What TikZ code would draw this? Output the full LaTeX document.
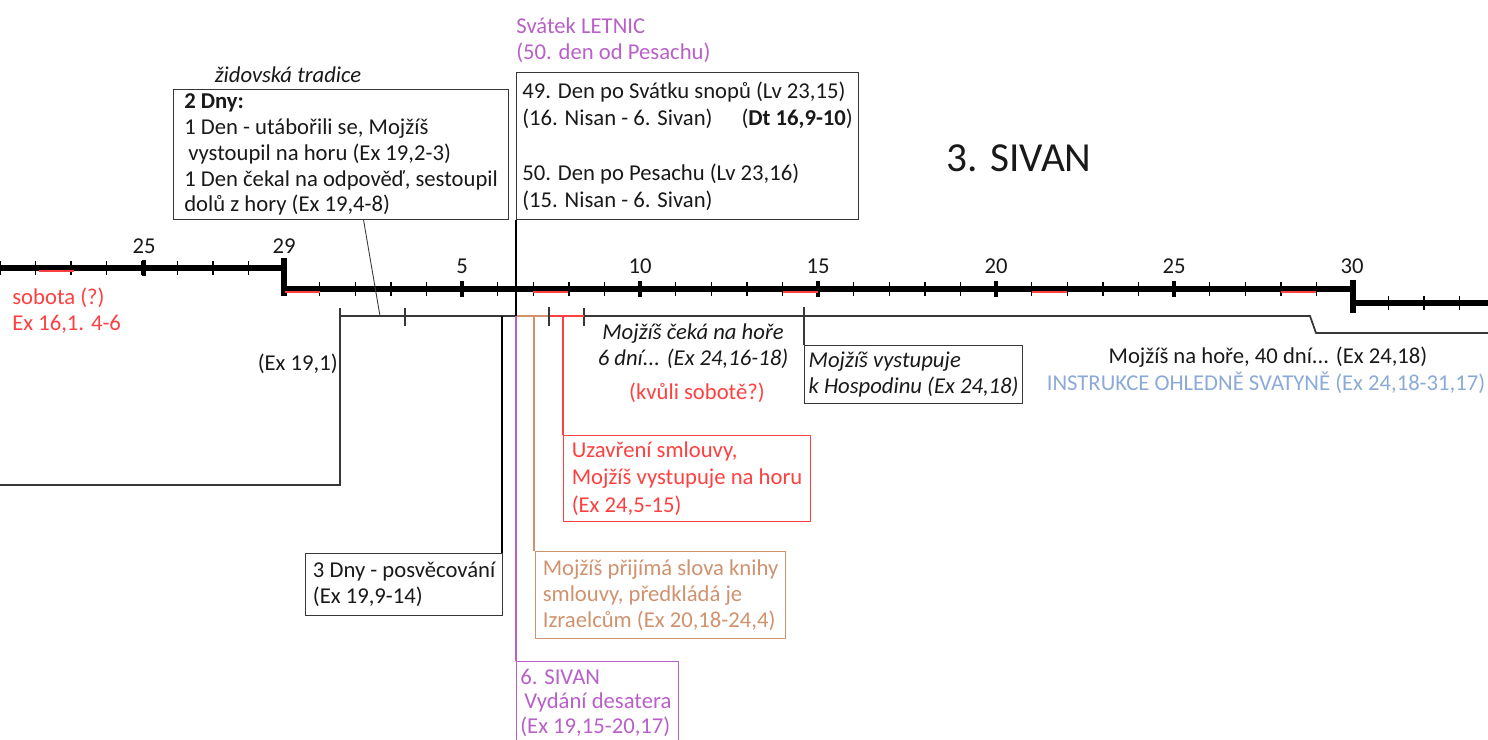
\documentclass[tikz,border=0pt]{standalone}
\usepackage{fontspec}
\setmainfont{Carlito}
\usepackage{tikz}
\definecolor{ink}{RGB}{25,25,25}
\definecolor{frame}{RGB}{55,55,55}
\definecolor{sabat}{RGB}{255,64,64}
\definecolor{lila}{RGB}{184,96,200}
\definecolor{hneda}{RGB}{208,146,110}
\definecolor{modra}{RGB}{140,170,215}
\newcommand{\txt}{\fontsize{12.9}{14.7}\selectfont}
\newcommand{\txtw}{\fontsize{12.9}{15.6}\selectfont}
\tikzset{
    every node/.style={inner sep=0pt, text=ink, font=\txt, align=left}
}
\tikzset{
    box/.style={draw=frame, line width=0.7pt, anchor=north west}
}
\tikzset{
    osa/.style={line width=3.1pt},
    den/.style={line width=0.8pt},
    pet/.style={line width=1.8pt},
    sobota/.style={sabat, line width=1.2pt},
    mojzis/.style={frame, line width=1pt}
}

\begin{document}
\begin{tikzpicture}[x=0.02cm, y=-0.02cm]
  \useasboundingbox (0,0) rectangle (1488,740);
  \clip (0,0) rectangle (1488,740);

  \draw[osa] (0,268) -- (284,268);
  \draw[osa] (284,258) -- (284,296);
  \draw[osa] (284,289) -- (1353,289);
  \draw[osa] (1353,280) -- (1353,313);
  \draw[osa] (1353,303) -- (1488,303);
  \foreach \d in {21,...,28} \draw[den] ({284-35.5*(29-\d)},261) -- ++(0,14);
  \draw[pet] (144,260) -- (144,276);
  \foreach \d in {1,...,29} \draw[den] ({284+35.6*\d},282) -- ++(0,14);
  \foreach \d in {5,10,...,25} \draw[pet] ({284+35.6*\d},281) -- ++(0,16);
  \foreach \d in {1,2,3} \draw[den] ({1353+35.5*\d},296) -- ++(0,14);
  \foreach \a/\b/\y in {39/74/271, 285/320/292, 533/568/292, 783/818/292,
      1032/1067/292, 1281/1316/292}
    \draw[sobota] (\a,\y) -- (\b,\y);

  \node (n25) at (144,246) {25};
  \node (n29) at (284,246) {29};
  \foreach \d in {5,10,...,30} \node (s\d) at ({284+35.6*\d},266) {\d};

  \coordinate (mline) at (0,316);
  \coordinate (mtop) at (0,307);
  \coordinate (m0) at (340,316);
  \coordinate (m1) at (380,316);
  \coordinate (m5) at (502,316);
  \coordinate (m6) at (516,316);
  \coordinate (m7) at (549,316);
  \coordinate (m8) at (584,316);
  \draw[mojzis] (0,485) -| (340,308);
  \draw[mojzis] (m0) -- (1310,316) -- (1316,333) -- (1488,333);
  \draw[mojzis] (405,308) -- (405,326);
  \draw[mojzis] (584,308) -- (584,326);
  \draw[hneda, line width=1.5pt] (m6) -- (m7);
  \draw[sabat, line width=1.5pt] (m7) -- (m8);
  \draw[frame, line width=1.7pt] (549,307) -- (549,326);

  \node (tradtxt) at (288,75) {\textit{židovská tradice}};
  \node (tradice) [box, minimum width=6.7cm, minimum height=2.6cm] at (173,89)
    {\textbf{2 Dny:}\\1 Den - utábořili se, Mojžíš\\\hspace*{0.08cm}vystoupil na horu (Ex 19,2-3)\\1 Den čekal na odpověď, sestoupil\\dolů z hory (Ex 19,4-8)};
  \node (svatek) [anchor=west, text=lila] at (516,40) {Svátek LETNIC\\(50. den od Pesachu)};
  \node (letnice) [box, minimum width=6.84cm, minimum height=2.94cm, font=\txtw] at (516,72)
    {49. Den po Svátku snopů (Lv 23,15)\\(16. Nisan - 6. Sivan)\hspace{0.58cm}(\textbf{Dt 16,9-10})\\[15.6pt]50. Den po Pesachu (Lv 23,16)\\(15. Nisan - 6. Sivan)};
  \node (sivan3) [font=\fontsize{23.5}{28}\selectfont] at (1019,158) {3. SIVAN};

  \node (sobota) [anchor=west, text=sabat] at (12,311) {sobota (?)\\Ex 16,1. 4-6};
  \node (ex191) [anchor=east] at (338,364) {(Ex 19,1)};
  \node (ceka) [align=center, font=\txt\itshape] at (693,346) {Mojžíš čeká na hoře\\6 dní... (Ex 24,16-18)};
  \node (kvuli) [text=sabat] at (697,393) {(kvůli sobotě?)};
  \node (hosp) [box, minimum width=4.36cm, minimum height=1.16cm, font=\txt\itshape] at (804,345)
    {Mojžíš vystupuje\\k Hospodinu (Ex 24,18)};
  \node (hora40) at (1268,357) {Mojžíš na hoře, 40 dní... (Ex 24,18)};
  \node (instrukce) [text=modra] at (1266,383) {INSTRUKCE OHLEDNĚ SVATYNĚ (Ex 24,18-31,17)};

  \node (smlouva) [box, draw=sabat, text=sabat, minimum width=4.94cm, minimum height=1.72cm, font=\txtw] at (563,435)
    {Uzavření smlouvy,\\Mojžíš vystupuje na horu\\(Ex 24,5-15)};
  \node (posv) [box, minimum width=3.94cm, minimum height=1.24cm] at (305,553)
    {3 Dny - posvěcování\\(Ex 19,9-14)};
  \node (kniha) [box, draw=hneda, text=hneda, minimum width=5cm, minimum height=1.74cm] at (535,551)
    {Mojžíš přijímá slova knihy\\smlouvy, předkládá je\\Izraelcům (Ex 20,18-24,4)};
  \node (desatero) [box, draw=lila, minimum width=3.24cm, minimum height=2.6cm] at (516,661) {};
  \node (desaterotxt) [anchor=north west, text=lila, font=\fontsize{12.9}{13.8}\selectfont]
    at ([shift={(0.08cm,-0.16cm)}]desatero.north west)
    {6. SIVAN\\\hspace*{0.08cm}Vydání desatera\\(Ex 19,15-20,17)};

  \draw[frame, line width=0.5pt] ([xshift=0.45cm]tradice.south) -- (m1);
  \draw[black, line width=0.6pt] (letnice.south west) -- (m6);
  \draw[lila, line width=0.6pt] (m6) -- (desatero.north west);
  \draw[black, line width=0.7pt] (m5) -- (m5 |- posv.north);
  \draw[hneda, line width=0.7pt] ([xshift=-0.02cm]kniha.north west) -- ([xshift=-0.02cm]kniha.north west |- mline);
  \draw[sabat, line width=0.7pt] (smlouva.north west) -- (smlouva.north west |- mline);
  \draw[frame, line width=0.7pt] (hosp.north west) -- (hosp.north west |- mtop);
\end{tikzpicture}
\end{document}
